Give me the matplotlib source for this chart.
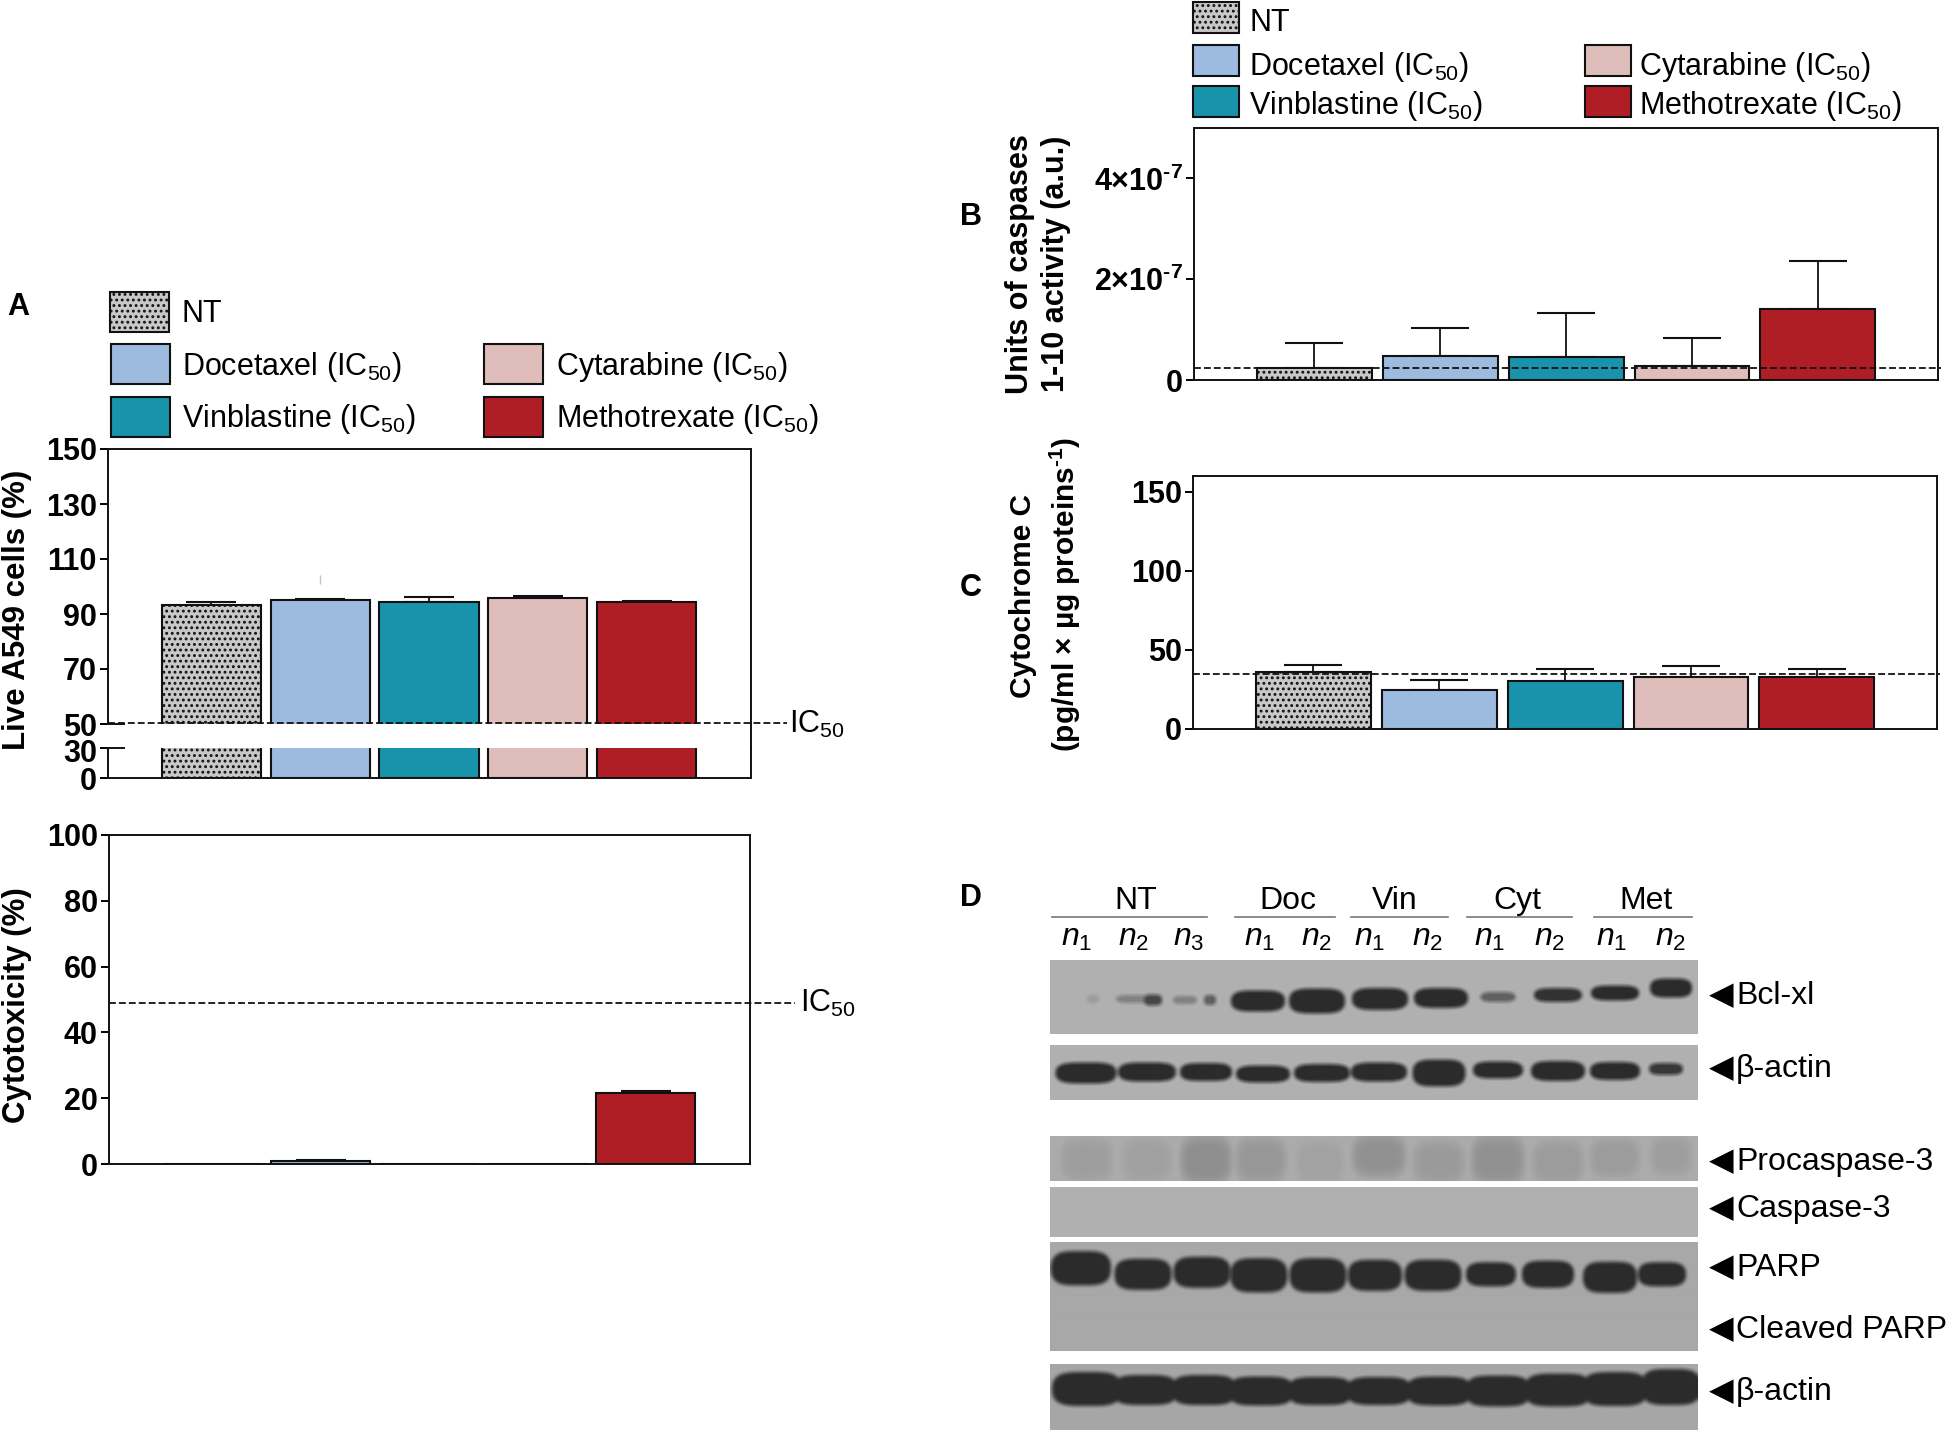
import matplotlib
matplotlib.use('Agg')
import matplotlib.pyplot as plt
import numpy as np
from matplotlib.lines import Line2D
from matplotlib.patches import Rectangle
from matplotlib.transforms import ScaledTranslation

# Drug order for all bar panels
drugs = ['NT', 'Docetaxel', 'Vinblastine', 'Cytarabine', 'Methotrexate']
live_cells = [93.3, 95.0, 94.2, 95.7, 94.3]
live_cells_top = [94.3, 95.5, 96.2, 96.4, 94.8]
live_ticks = [50, 70, 90, 110, 130, 150]
live_ic50 = 50.5
stray_mark = [100.8, 104.2]

cytotox = [0, 0.9, 0, 0, 21.5]
cytotox_top = [0, 1.1, 0, 0, 22.2]
cytotox_ic50 = 48.8

caspases = [0.24, 0.475, 0.45, 0.28, 1.40]
caspases_top = [0.74, 1.04, 1.32, 0.83, 2.36]
caspases_ref = 0.23

cytc = [36.0, 24.8, 30.3, 32.6, 32.6]
cytc_top = [40.4, 30.7, 37.7, 40.0, 37.7]
cytc_ref = 34.5

# Blot lanes in px inside each strip
lane_labels = ['n1', 'n2', 'n3', 'n1', 'n2', 'n1', 'n2', 'n1', 'n2', 'n1', 'n2']
groups = ['NT', 'Doc', 'Vin', 'Cyt', 'Met']
bcl_x = [43, 84, 103, 135, 160, 208, 267, 330, 391, 448, 508, 565, 621]
bcl_y = [39, 39, 40, 40, 40, 41, 41, 39, 38, 37, 35, 33, 28]
bcl_w = [12, 36, 18, 24, 12, 54, 56, 56, 54, 35, 48, 48, 42]
bcl_h = [8, 8, 11, 8, 10, 21, 25, 22, 20, 10, 14, 15, 19]
bcl_dark = [0.15, 0.35, 0.8, 0.35, 0.6, 1, 1, 1, 1, 0.6, 0.95, 1, 1]

act1_x = [36, 97, 156, 213, 272, 329, 389, 448, 508, 565, 616]
act1_y = [28, 27, 27, 29, 28, 27, 28, 25, 26, 26, 24]
act1_w = [61, 58, 52, 54, 56, 56, 53, 50, 54, 50, 34]
act1_h = [21, 19, 18, 17, 18, 19, 27, 17, 20, 18, 12]
act1_dark = [1, 1, 1, 1, 1, 1, 1, 1, 1, 1, 0.9]

pro_x = [37, 97, 156, 211, 270, 329, 389, 448, 508, 565, 621]
pro_y = [24, 24, 24, 24, 26, 20, 26, 24, 26, 22, 20]
pro_w = [50, 48, 50, 50, 46, 52, 50, 52, 50, 48, 40]
pro_h = [40, 40, 46, 42, 40, 40, 40, 46, 40, 36, 36]
pro_dark = [0.10, 0.08, 0.22, 0.15, 0.07, 0.2, 0.13, 0.2, 0.12, 0.12, 0.1]

parp_x = [31, 93, 152, 209, 268, 325, 383, 441, 498, 560, 612]
parp_y = [27, 33, 31, 34, 34, 34, 34, 33, 33, 36, 33]
parp_w = [60, 57, 57, 57, 57, 54, 57, 50, 52, 54, 48]
parp_h = [34, 31, 31, 34, 34, 31, 31, 24, 27, 31, 24]
parp_dark = [1, 1, 1, 1, 1, 1, 1, 1, 1, 1, 1]

act2_x = [37, 95, 154, 211, 270, 329, 389, 448, 508, 565, 621]
act2_y = [25, 26, 26, 27, 27, 27, 27, 27, 26, 25, 23]
act2_w = [70, 66, 66, 66, 66, 66, 66, 66, 68, 66, 60]
act2_h = [34, 30, 30, 29, 28, 28, 29, 31, 33, 34, 36]
act2_dark = [1, 1, 1, 1, 1, 1, 1, 1, 1, 1, 1]

W, H = 1946, 1431
colors = ['#c8c8c8', '#9dbadf', '#1893ab', '#dfbdbb', '#b01e25']

plt.rcParams['font.family'] = ['Liberation Sans', 'DejaVu Sans']
plt.rcParams['mathtext.fontset'] = 'custom'
plt.rcParams['mathtext.rm'] = 'Liberation Sans'
plt.rcParams['mathtext.it'] = 'Liberation Sans:italic'
plt.rcParams['mathtext.bf'] = 'Liberation Sans:bold'
plt.rcParams['mathtext.default'] = 'regular'
plt.rcParams['hatch.linewidth'] = 1.3

fig = plt.figure(figsize=(W / 100, H / 100), dpi=100)


def px_axes(left, top, right, bottom):
    """Axes from pixel edges, y counted from the top of the picture"""
    return fig.add_axes([left / W, 1 - bottom / H, (right - left) / W, (bottom - top) / H])


def label(x, y, s, **kwargs):
    kwargs.setdefault('fontsize', 22)
    kwargs.setdefault('va', 'baseline')
    fig.text(x / W, 1 - y / H, s, **kwargs)


def draw_bars(ax, values, tops, cap=21, xlim=(-0.957, 4.955)):
    x = np.arange(len(values))
    for i in x:
        ax.bar(i, values[i], width=0.912, color=colors[i], edgecolor='#111111', linewidth=1.5,
               hatch='...' if i == 0 else None, zorder=2)
    err = np.asarray(tops) - np.asarray(values)
    shown = err > 0
    ax.errorbar(x[shown], np.asarray(values)[shown], yerr=[np.zeros(shown.sum()), err[shown]], fmt='none',
                ecolor='#111111', elinewidth=1.3, capsize=cap, capthick=1.5, zorder=1)
    ax.set_xlim(*xlim)
    ax.set_xticks([])
    ax.tick_params(axis='y', length=6, width=1.4, pad=2, labelsize=22)
    for spine in ax.spines.values():
        spine.set_linewidth(1.4)
        spine.set_color('#111111')
    ax.set_zorder(3)
    ax.patch.set_alpha(0)


def bold_ticks(ax):
    for tick in ax.get_yticklabels():
        tick.set_fontweight('bold')


def ref_line(ax, y, x0=0.0, x1=1.004):
    ax.plot([x0, x1], [y, y], transform=ax.get_yaxis_transform(), color='#111111', linewidth=1.3,
            linestyle=(0, (3.8, 1.7)), clip_on=False, zorder=4)


def draw_legend(x1, x1_text, x1_nt, x2, x2_text, rows, bases, sw_w, sw_h):
    entries = [(x1_nt, rows[0], 0, 'NT', x1_text, bases[0]),
               (x1, rows[1], 1, 'Docetaxel (IC$_{50}$)', x1_text, bases[1]),
               (x1, rows[2], 2, 'Vinblastine (IC$_{50}$)', x1_text, bases[2]),
               (x2, rows[1], 3, 'Cytarabine (IC$_{50}$)', x2_text, bases[1]),
               (x2, rows[2], 4, 'Methotrexate (IC$_{50}$)', x2_text, bases[2])]
    for sx, sy, i, name, tx, base in entries:
        fig.add_artist(Rectangle((sx / W, 1 - (sy + sw_h) / H), sw_w / W, sw_h / H, transform=fig.transFigure,
                                 facecolor=colors[i], edgecolor='#111111', linewidth=1.5,
                                 hatch='...' if i == 0 else None))
        label(tx, base, name)


def soften(img, n=5):
    kernel = np.ones(n) / n
    pad = np.pad(img, n, mode='edge')
    pad = np.apply_along_axis(np.convolve, 0, pad, kernel, mode='same')
    pad = np.apply_along_axis(np.convolve, 1, pad, kernel, mode='same')
    return pad[n:-n, n:-n]


def draw_strip(top, bottom, bg, xs=(), ys=(), ws=(), hs=(), dark=(), soft=0.2):
    left, right = 1050, 1698
    ax = px_axes(left, top, right, bottom)
    w, h = right - left, int(bottom - top)
    gx, gy = np.meshgrid(np.arange(w) + 0.5, np.arange(h) + 0.5)
    cover = np.zeros((h, w))
    for i in range(len(xs)):
        d = (np.abs(gx - xs[i]) / (ws[i] / 2)) ** 4 + (np.abs(gy - ys[i]) / (hs[i] / 2)) ** 2.5
        cover = np.maximum(cover, dark[i] * np.clip((1 + soft - d) / (2 * soft), 0, 1))
    ax.imshow(bg + (0.17 - bg) * soften(cover), cmap='gray', vmin=0, vmax=1, aspect='auto', interpolation='bilinear')
    ax.axis('off')


# Panel A, live cells, broken y axis
a_xlim = (-0.951, 4.96)
ax_hi = px_axes(108, 449, 751, 724)
ax_lo = px_axes(108, 748, 751, 778)
for ax in (ax_hi, ax_lo):
    draw_bars(ax, live_cells, live_cells_top, cap=18, xlim=a_xlim)
ax_hi.set_ylim(50, 150)
ax_hi.set_yticks(live_ticks)
ax_hi.spines['bottom'].set_visible(False)
ax_hi.vlines(1, stray_mark[0], stray_mark[1], color='#c4c4c4', linewidth=1)
ax_lo.set_ylim(0, 30)
ax_lo.set_yticks([0, 30])
ax_lo.spines['top'].set_visible(False)
bold_ticks(ax_hi)
bold_ticks(ax_lo)
# the 30 sits a little below its tick so that it clears the 50 and the 0
tick_30 = ax_lo.yaxis.get_major_ticks()[1].label1
tick_30.set_transform(tick_30.get_transform() + ScaledTranslation(0, -3 / 100, fig.dpi_scale_trans))
ax_hi.plot([0, 0.025], [50, 50], transform=ax_hi.get_yaxis_transform(), color='#111111', linewidth=1.4, clip_on=False)
ax_lo.plot([0, 0.025], [30, 30], transform=ax_lo.get_yaxis_transform(), color='#111111', linewidth=1.4, clip_on=False)
fig.add_artist(Line2D([751 / W, 751 / W], [1 - 724 / H, 1 - 748 / H], color='#111111', linewidth=1.4))
ref_line(ax_hi, live_ic50, 0.0, 1.056)
label(789, 733, 'IC$_{50}$')
label(17, 610, 'Live A549 cells (%)', fontsize=22.5, fontweight='bold', rotation=90, ha='center', va='center')

# Panel A, cytotoxicity
ax = px_axes(109, 835, 750, 1164)
draw_bars(ax, cytotox, cytotox_top, cap=18, xlim=a_xlim)
ax.set_ylim(0, 100)
ax.set_yticks(np.arange(0, 101, 20))
bold_ticks(ax)
ref_line(ax, cytotox_ic50, 0.0, 1.07)
label(800, 1012, 'IC$_{50}$')
label(17, 1005, 'Cytotoxicity (%)', fontsize=22.5, fontweight='bold', rotation=90, ha='center', va='center')

# Panel B
ax = px_axes(1194, 128, 1938, 380)
draw_bars(ax, caspases, caspases_top)
ax.set_ylim(0, 5)
ax.set_yticks([0, 2, 4], ['0', '2×10$^{\u2010 7}$', '4×10$^{\u2010 7}$'])
bold_ticks(ax)
ref_line(ax, caspases_ref)
label(1020, 264, 'Units of caspases', fontsize=22, fontweight='bold', rotation=90, ha='center', va='center')
label(1056, 264, '1-10 activity (a.u.)', fontsize=22, fontweight='bold', rotation=90, ha='center', va='center')

# Panel C
ax = px_axes(1193, 476, 1937, 729)
draw_bars(ax, cytc, cytc_top)
ax.set_ylim(0, 160)
ax.set_yticks([0, 50, 100, 150])
bold_ticks(ax)
ref_line(ax, cytc_ref)
label(1023, 596, 'Cytochrome C', fontsize=21.5, fontweight='bold', rotation=90, ha='center', va='center')
label(1065, 594, '(pg/ml × µg proteins$^{\u2010 1}$)', fontsize=21.5, fontweight='bold', rotation=90, ha='center', va='center')

draw_legend(111, 182, 109.5, 484, 556, [292, 344, 397], [322, 375, 427], 59, 40)
draw_legend(1193, 1249, 1193, 1584.5, 1639, [2, 45, 86], [31, 75, 114], 46, 31)

for x, y, s in [(18, 315, 'A'), (971, 225, 'B'), (971, 596, 'C'), (971, 906, 'D')]:
    label(x, y, s, fontsize=22, fontweight='bold', ha='center')

# Panel D, blots
draw_strip(960, 1034, 0.69, bcl_x, bcl_y, bcl_w, bcl_h, bcl_dark)
draw_strip(1045, 1100, 0.69, act1_x, act1_y, act1_w, act1_h, act1_dark)
draw_strip(1136, 1181, 0.67, pro_x, pro_y, pro_w, pro_h, pro_dark, soft=0.7)
draw_strip(1187, 1237, 0.69)
draw_strip(1242, 1351, 0.66, parp_x, parp_y, parp_w, parp_h, parp_dark)
draw_strip(1364, 1430, 0.65, act2_x, act2_y, act2_w, act2_h, act2_dark)

group_x = [1136, 1288, 1395, 1517, 1646]
group_line = [(1052, 1207), (1235, 1335), (1351, 1448), (1467, 1572), (1594, 1692)]
for name, gx, (x0, x1) in zip(groups, group_x, group_line):
    label(gx, 909, name, ha='center', fontsize=23)
    fig.add_artist(Line2D([x0 / W, x1 / W], [1 - 917 / H, 1 - 917 / H], color='#777777', linewidth=1.2))

lane_x = [1077, 1134, 1189, 1259.5, 1317, 1370, 1428, 1490, 1550, 1612, 1671]
for name, lx in zip(lane_labels, lane_x):
    label(lx, 946, '$\\mathit{n}_{\\mathit{' + name[1] + '}}$', ha='center', fontsize=23)

blot_names = ['Bcl-xl', 'β-actin', 'Procaspase-3', 'Caspase-3', 'PARP', 'Cleaved PARP', 'β-actin']
blot_base = [1004, 1077, 1170, 1217, 1276, 1338, 1400]
for name, base in zip(blot_names, blot_base):
    label(1709, base, '◀', fontsize=23)
    label(1736, base, name, fontsize=23)

fig.savefig('out.png', dpi=100)
